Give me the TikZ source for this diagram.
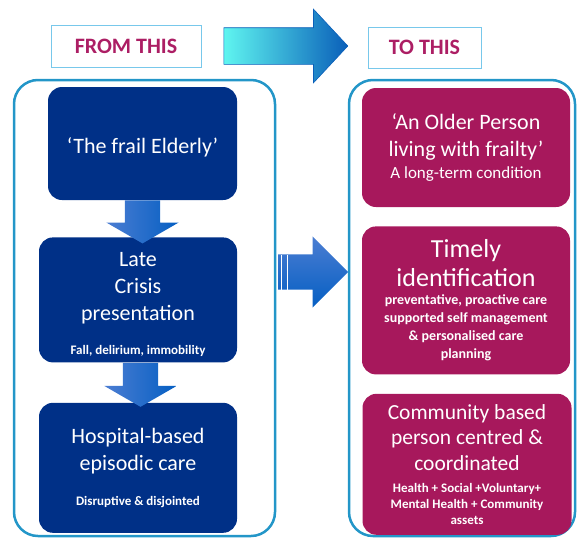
\documentclass[tikz,border=0pt]{standalone}
\usepackage{fontspec}
\setmainfont{Carlito}
\usepackage{tikz}
\usetikzlibrary{positioning,shapes.arrows,calc}

\definecolor{oldblue}{RGB}{0,48,135}
\definecolor{newplum}{RGB}{167,24,92}
\definecolor{headplum}{RGB}{172,30,100}
\definecolor{frameblue}{RGB}{35,150,200}
\definecolor{tagblue}{RGB}{120,200,235}
\definecolor{arrowlight}{RGB}{75,125,210}
\definecolor{arrowdark}{RGB}{5,95,195}
\definecolor{shiftcyan}{RGB}{95,245,240}
\definecolor{shiftblue}{RGB}{10,95,185}

\begin{document}
\begin{tikzpicture}
[x=1pt, y=-1pt, font=\fontsize{22}{27}\selectfont,
% STYLES
% The groupbox style is used for the two big frames
groupbox/.style={rectangle, draw=frameblue, line width=2.5pt, rounded corners=24pt, minimum width=261pt, minimum height=456pt},
% The tagbox style is used for the FROM / TO headings
tagbox/.style={rectangle, draw=tagblue, line width=1pt, text=headplum, font=\fontsize{22}{26}\selectfont\bfseries, inner sep=0pt},
% The oldbox style is used for the current model
oldbox/.style={rectangle, rounded corners=14pt, fill=oldblue, text=white, align=flush center, inner xsep=5pt, inner ysep=0pt},
% The newbox style is used for the new model
newbox/.style={rectangle, rounded corners=14pt, fill=newplum, text=white, align=flush center, inner xsep=5pt, inner ysep=0pt},
% The stage arrows between the boxes
downarrow/.style={single arrow, rotate=-90, anchor=tail, inner xsep=0pt, inner ysep=17.5pt, single arrow head extend=18.5pt, single arrow tip angle=120, left color=arrowlight, right color=arrowdark},
midarrow/.style={single arrow, anchor=tail, inner xsep=0pt, inner ysep=17.5pt, single arrow head extend=18pt, single arrow tip angle=90, top color=arrowlight, bottom color=arrowdark, minimum height=70pt},
shiftarrow/.style={single arrow, inner xsep=0pt, inner ysep=18pt, single arrow head extend=18.5pt, single arrow tip angle=94, left color=shiftcyan, right color=shiftblue, draw=shiftblue, line width=0.6pt, minimum height=124pt}]

\useasboundingbox (0,0) rectangle (577,538);

% Draw frames
\node [groupbox] (from_group) at (144.5,308) {};
\node [groupbox, minimum width=226pt] (to_group) at (462,308) {};

% Draw headings
\node [tagbox, minimum width=150pt, minimum height=42pt] (from_tag) at (126,46) {FROM THIS};
\node [tagbox, minimum width=113pt, minimum height=41pt] (to_tag) at (424.5,47.5) {TO THIS};
\node [shiftarrow, right=22pt of from_tag] (shift) {};

%%%%%%%%%%%%%%%
% From this

\node [oldbox, minimum width=189pt, text width=179pt, minimum height=113pt] (frail) at (142.5,143.5) {\rule{0pt}{23pt}`The frail Elderly'};

\node [oldbox, minimum width=198pt, text width=188pt, minimum height=125pt, below=37pt of frail, xshift=-4.5pt] (crisis) {\rule{0pt}{23pt}Late\\Crisis\\presentation\\[18pt]{\fontsize{13}{16}\selectfont\bfseries Fall, delirium, immobility\par}};

\node [oldbox, minimum width=198pt, text width=188pt, minimum height=130pt, below=40pt of crisis] (hospital) {Hospital-based\\episodic care\\[19pt]{\fontsize{13}{16}\selectfont\bfseries Disruptive \& disjointed\par}};

%%%%%%%%%%%%%%%
% To this

\node [newbox, minimum width=208pt, text width=198pt, minimum height=119pt] (older) at (466,147.5) {`An Older Person\\living with frailty'\\[2pt]{\fontsize{17}{20}\selectfont A long-term condition\par}};

\node [newbox, minimum width=208pt, text width=198pt, minimum height=148pt, below=19pt of older, font=\fontsize{26}{29}\selectfont] (timely) {Timely\\identification\\[0pt]{\fontsize{14}{18}\selectfont\bfseries preventative, proactive care\\supported self management\\\& personalised care\\planning\par}};

\node [newbox, minimum width=209pt, text width=199pt, minimum height=141pt, below=19pt of timely, xshift=1pt, font=\fontsize{21.5}{25.5}\selectfont] (community) {Community based\\person centred \&\\coordinated\\[6pt]{\fontsize{13}{16}\selectfont\bfseries Health + Social +Voluntary+\\Mental Health + Community\\assets\par}};

%%%%%%%%%%%%%%%
% Draw the arrows between the stages
\node [downarrow, minimum height=43pt] (step_one) at (frail.south) {};
\node [downarrow, minimum height=44pt] (step_two) at ($(crisis.south)+(2.5,0)$) {};

\node [midarrow] (move) at (278,272) {};
\draw [white, line width=0.8pt] ($(move.tail)+(3.5,-17.5)$) -- ($(move.tail)+(3.5,17.5)$);
\draw [white, line width=0.8pt] ($(move.tail)+(9.5,-17.5)$) -- ($(move.tail)+(9.5,17.5)$);

\end{tikzpicture}
\end{document}
